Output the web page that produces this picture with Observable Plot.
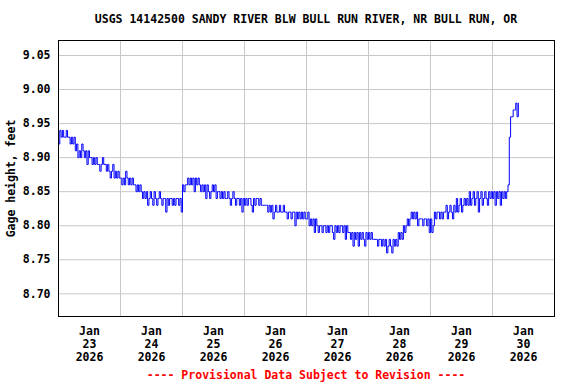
<!DOCTYPE html>
<html>
<head>
<meta charset="utf-8">
<script src="https://cdn.jsdelivr.net/npm/d3@7"></script>
<script src="https://cdn.jsdelivr.net/npm/@observablehq/plot@0.6"></script>
<style>
  html, body { margin: 0; padding: 0; background: white; }
  body { width: 576px; height: 384px; overflow: hidden; font-family: "DejaVu Sans Mono", monospace; font-weight: bold; }
  #title { height: 32px; box-sizing: border-box; padding: 12px 22px 0 58px; text-align: center; font-size: 11.5px; line-height: 14px; color: black; white-space: nowrap; }
  #chart { height: 332px; }
  #foot { height: 20px; box-sizing: border-box; padding: 4px 22px 0 58px; text-align: center; font-size: 11.5px; line-height: 14px; color: #ff0000; white-space: nowrap; }
  svg { display: block; }
</style>
</head>
<body>
<div id="title"></div>
<div id="chart"></div>
<div id="foot"></div>
<script>
const titleText = "USGS 14142500 SANDY RIVER BLW BULL RUN RIVER, NR BULL RUN, OR";
const footText = "---- Provisional Data Subject to Revision ----";
const yLabel = "Gage height, feet";

// Gage height (feet), one reading every 30 minutes starting at 00:00 of each day
const day23 = [8.92,8.94,8.93,8.94,8.93,8.93,8.94,8.93,8.93,8.92,8.93,8.92,8.93,8.91,8.92,8.90,8.91,8.90,8.92,8.91,8.90,8.91,8.89,8.91,8.90,8.90,8.89,8.90,8.89,8.90,8.89,8.89,8.88,8.89,8.90,8.89,8.89,8.88,8.89,8.88,8.87,8.88,8.89,8.87,8.88,8.87,8.88,8.87];
const day24 = [8.87,8.86,8.87,8.86,8.88,8.87,8.86,8.87,8.86,8.87,8.86,8.86,8.85,8.86,8.85,8.86,8.85,8.84,8.85,8.84,8.85,8.83,8.84,8.85,8.84,8.83,8.85,8.84,8.83,8.84,8.85,8.84,8.83,8.84,8.84,8.82,8.84,8.83,8.84,8.84,8.83,8.84,8.83,8.84,8.84,8.83,8.84,8.82];
const day25 = [8.86,8.85,8.86,8.86,8.87,8.86,8.87,8.86,8.87,8.85,8.87,8.86,8.87,8.86,8.85,8.86,8.85,8.86,8.84,8.86,8.85,8.84,8.85,8.86,8.85,8.86,8.84,8.85,8.85,8.84,8.85,8.84,8.85,8.84,8.84,8.85,8.84,8.83,8.84,8.85,8.84,8.83,8.84,8.84,8.83,8.84,8.82,8.84];
const day26 = [8.83,8.84,8.83,8.84,8.84,8.83,8.82,8.84,8.83,8.84,8.84,8.83,8.84,8.83,8.83,8.83,8.83,8.83,8.82,8.83,8.82,8.83,8.81,8.82,8.83,8.82,8.82,8.83,8.82,8.82,8.83,8.82,8.82,8.81,8.82,8.82,8.81,8.82,8.82,8.80,8.82,8.81,8.82,8.81,8.82,8.81,8.82,8.81];
const day27 = [8.81,8.82,8.80,8.81,8.80,8.81,8.79,8.81,8.80,8.79,8.80,8.80,8.79,8.80,8.80,8.79,8.80,8.79,8.80,8.80,8.79,8.78,8.80,8.79,8.80,8.79,8.80,8.80,8.79,8.80,8.78,8.80,8.79,8.79,8.78,8.79,8.77,8.79,8.78,8.79,8.77,8.79,8.78,8.79,8.78,8.77,8.79,8.78];
const day28 = [8.79,8.78,8.79,8.78,8.78,8.78,8.78,8.77,8.78,8.78,8.77,8.78,8.77,8.78,8.76,8.77,8.78,8.77,8.76,8.78,8.77,8.78,8.77,8.79,8.78,8.79,8.78,8.80,8.79,8.80,8.81,8.80,8.81,8.82,8.81,8.82,8.81,8.82,8.80,8.81,8.81,8.81,8.80,8.81,8.81,8.80,8.81,8.79];
const day29 = [8.81,8.79,8.80,8.82,8.81,8.82,8.82,8.81,8.82,8.81,8.82,8.82,8.83,8.81,8.82,8.83,8.82,8.81,8.83,8.82,8.84,8.82,8.83,8.84,8.82,8.83,8.84,8.83,8.84,8.83,8.85,8.83,8.84,8.85,8.83,8.84,8.85,8.82,8.84,8.85,8.83,8.84,8.85,8.84,8.83,8.85,8.84,8.85];
const day30 = [8.84,8.85,8.83,8.85,8.84,8.85,8.83,8.85,8.84,8.85,8.84,8.85,8.86,8.93,8.96,8.96,8.97,8.97,8.98,8.96,8.98];

const dayNumbers = [23, 24, 25, 26, 27, 28, 29, 30];
const monthLabel = "Jan";
const yearLabel = "2026";
const yTicks = [8.70, 8.75, 8.80, 8.85, 8.90, 8.95, 9.00, 9.05];

const days = [day23, day24, day25, day26, day27, day28, day29, day30];
const data = days.flatMap((arr, d) => arr.map((v, i) => ({
  t: new Date(Date.UTC(2026, 0, dayNumbers[d]) + i * 30 * 60000),
  v
})));
const noons = dayNumbers.map(n => new Date(Date.UTC(2026, 0, n, 12)));
const midnights = dayNumbers.slice(1).map(n => new Date(Date.UTC(2026, 0, n)));

document.getElementById("title").textContent = titleText;
document.getElementById("foot").textContent = footText;

const chart = Plot.plot({
  width: 576,
  height: 332,
  marginTop: 8,
  marginBottom: 48,
  marginLeft: 58,
  marginRight: 22,
  style: {fontFamily: "'DejaVu Sans Mono', monospace", fontSize: "11.5px", fontWeight: "bold", color: "black", background: "white", overflow: "visible"},
  x: {type: "utc", domain: [new Date(Date.UTC(2026, 0, 23)), new Date(Date.UTC(2026, 0, 31))]},
  y: {domain: [8.6667, 9.072]},
  marks: [
    Plot.gridX(midnights, {stroke: "#c8c8c8", strokeOpacity: 1}),
    Plot.gridY(yTicks, {stroke: "#c8c8c8", strokeOpacity: 1}),
    Plot.line(data, {x: "t", y: "v", curve: "step-after", stroke: "#0000ff", strokeWidth: 1}),
    Plot.frame({stroke: "black", strokeWidth: 1}),
    Plot.axisY(yTicks, {tickSize: 0, tickPadding: 8, tickFormat: d => d.toFixed(2), label: yLabel, labelAnchor: "center", labelArrow: "none", labelOffset: 52}),
    Plot.axisX(noons, {tickSize: 0, tickPadding: 9, tickFormat: (d, i) => `${monthLabel}\n${dayNumbers[i]}\n${yearLabel}`, lineHeight: 1.13, label: null})
  ]
});
document.getElementById("chart").appendChild(chart);
</script>
</body>
</html>
